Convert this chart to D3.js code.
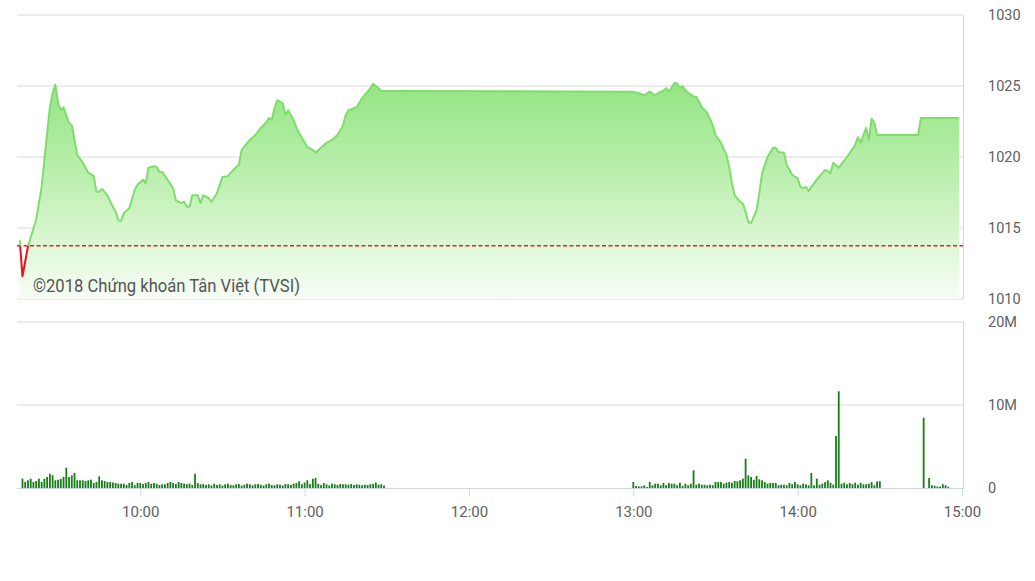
<!DOCTYPE html>
<html><head><meta charset="utf-8">
<script src="https://cdn.jsdelivr.net/npm/d3@7"></script>
<style>html,body{margin:0;padding:0;background:#fff;} svg{display:block;font-family:Roboto,"Noto Sans",sans-serif;}</style>
</head><body><svg id="c" width="1035" height="581"></svg>
<script>
// ---------- data ----------
const priceTimes = ["09:16","09:17","09:19","09:22","09:24","09:26","09:27","09:28","09:29","09:30","09:31","09:32","09:34","09:35","09:36","09:37","09:39","09:41","09:43","09:44","09:45","09:46","09:48","09:50","09:51","09:52","09:53","09:54","09:56","09:58","09:59","10:01","10:02","10:03","10:05","10:06","10:07","10:08","10:10","10:12","10:13","10:15","10:16","10:17","10:18","10:19","10:21","10:22","10:23","10:25","10:26","10:28","10:30","10:32","10:34","10:36","10:37","10:40","10:42","10:44","10:45","10:46","10:47","10:48","10:49","10:50","10:52","10:53","10:54","10:56","10:57","10:59","11:01","11:03","11:04","11:06","11:08","11:10","11:12","11:14","11:15","11:16","11:19","11:21","11:24","11:25","11:27","11:28","11:30","13:00","13:02","13:04","13:06","13:08","13:10","13:11","13:12","13:13","13:15","13:16","13:17","13:18","13:19","13:22","13:23","13:25","13:27","13:29","13:30","13:32","13:34","13:35","13:36","13:37","13:39","13:40","13:41","13:42","13:43","13:45","13:46","13:47","13:49","13:51","13:52","13:53","13:55","13:56","13:58","14:00","14:01","14:02","14:03","14:04","14:05","14:07","14:10","14:11","14:12","14:13","14:15","14:16","14:18","14:20","14:21","14:22","14:23","14:25","14:26","14:27","14:28","14:29","14:30","14:44","14:45","14:59"];
const priceValues = [1014.15,1011.6,1013.7,1015.6,1017.9,1021.7,1023.5,1024.5,1025.1,1023.8,1023.3,1023.5,1022.4,1022.25,1021.2,1020.15,1019.6,1018.9,1018.65,1017.55,1017.55,1017.75,1017.3,1016.5,1016.15,1015.55,1015.5,1016.05,1016.4,1017.7,1018.05,1018.4,1018.15,1019.25,1019.35,1019.3,1018.95,1018.95,1018.4,1017.8,1016.95,1016.75,1016.85,1016.5,1016.5,1017.3,1017.3,1016.75,1017.3,1017.1,1016.85,1017.45,1018.6,1018.65,1019.1,1019.45,1020.5,1021.2,1021.55,1022.05,1022.25,1022.45,1022.75,1022.6,1023.45,1024.0,1023.8,1022.95,1023.3,1022.6,1022.05,1021.35,1020.7,1020.5,1020.3,1020.65,1021.0,1021.2,1021.55,1022.2,1022.95,1023.3,1023.5,1024.15,1024.85,1025.15,1024.85,1024.65,1024.65,1024.6,1024.5,1024.35,1024.6,1024.35,1024.6,1024.65,1024.85,1024.6,1025.2,1025.2,1024.85,1025.0,1024.7,1024.25,1024.25,1023.5,1023.1,1022.25,1021.55,1021.0,1020.15,1019.3,1018.15,1017.3,1016.85,1016.7,1016.15,1015.4,1015.35,1016.25,1017.45,1018.85,1020.0,1020.65,1020.65,1020.35,1020.3,1019.45,1018.75,1018.5,1017.9,1017.8,1017.9,1017.6,1017.9,1018.4,1019.1,1019.0,1018.85,1019.6,1019.25,1019.5,1020.0,1020.55,1020.85,1021.4,1021.0,1022.05,1021.2,1022.7,1022.4,1021.55,1021.55,1021.55,1022.75,1022.75];
const refPrice = 1013.75;
const priceTicks = [1010,1015,1020,1025,1030];
const volTicks = [0,10,20];
const volTickLabels = ["0","10M","20M"];
const timeTicks = ["10:00","11:00","12:00","13:00","14:00","15:00"];
const volMorningStart = "09:17";
const volMorning = [1.12,0.72,0.93,1.12,0.72,0.84,1.12,0.72,1.12,1.33,1.72,1.53,0.93,1.0,1.12,1.33,2.45,1.33,1.53,1.81,0.93,0.93,0.93,0.84,0.93,1.0,0.6,0.72,1.41,0.93,0.84,0.72,0.72,0.66,0.6,0.52,0.52,0.52,0.36,0.6,0.72,0.33,0.6,0.6,0.48,0.6,0.72,0.52,0.6,0.52,0.36,0.45,0.45,0.6,0.72,0.6,0.48,0.72,0.6,0.52,0.45,0.52,0.36,1.72,0.6,0.45,0.48,0.36,0.45,0.3,0.52,0.36,0.45,0.3,0.45,0.52,0.36,0.33,0.45,0.48,0.3,0.4,0.52,0.45,0.33,0.45,0.48,0.4,0.3,0.45,0.52,0.36,0.33,0.45,0.4,0.3,0.48,0.45,0.36,0.52,0.6,0.81,0.45,0.66,0.93,0.48,1.12,1.2,0.52,0.36,0.6,0.45,0.3,0.52,0.45,0.36,0.48,0.45,0.45,0.4,0.48,0.36,0.45,0.4,0.33,0.4,0.36,0.45,0.48,0.66,0.4,0.45,0.3];
const volAfternoonStart = "13:00";
const volAfternoon = [0.72,0.24,0.2,0.2,0.33,0.12,0.72,0.33,0.52,0.52,0.33,0.6,0.33,0.6,0.52,0.52,0.33,0.64,0.24,0.52,0.33,0.52,2.13,0.4,0.52,0.4,0.4,0.33,0.4,0.33,0.72,0.72,0.72,0.52,0.64,0.72,0.64,0.84,0.81,0.93,1.12,3.53,1.53,1.33,1.0,1.45,1.05,0.93,0.72,0.52,0.6,0.6,0.6,0.33,0.4,0.4,0.33,0.6,0.45,0.72,0.45,0.33,0.52,0.45,0.33,1.81,0.33,1.12,0.4,0.52,0.72,0.93,0.64,0.4,6.27,11.65,0.52,0.64,0.45,0.6,0.45,0.64,0.4,0.64,0.45,0.45,0.52,0.72,0.33,0.81,0.81];
const volCloseTimes = ["14:46","14:48","14:49","14:50","14:51","14:52","14:53","14:54","14:55"];
const volCloseValues = [8.47,1.2,0.33,0.28,0.18,0.18,0.45,0.33,0.15];
const watermark = "©2018 Chứng khoán Tân Việt (TVSI)";

// ---------- helpers ----------
const toMin = s => { const p = s.split(":").map(Number); return p[0]*60 + p[1]; };
const fmtMin = m => String(Math.floor(m/60)).padStart(2,"0") + ":" + String(m%60).padStart(2,"0");

const price = priceTimes.map((t,i) => ({m: toMin(t), v: priceValues[i]}));
const vols = [];
volMorning.forEach((v,i) => vols.push({m: toMin(volMorningStart)+i, v}));
volAfternoon.forEach((v,i) => vols.push({m: toMin(volAfternoonStart)+i, v}));
volCloseTimes.forEach((t,i) => vols.push({m: toMin(t), v: volCloseValues[i]}));

// ---------- layout ----------
const L = 17, R = 963;
const svg = d3.select("#c");
const x = d3.scaleLinear().domain([toMin("09:15"), toMin("15:00")]).range([L, 962]);
const yP = d3.scaleLinear().domain([1010, 1030]).range([299, 15]);
const yV = d3.scaleLinear().domain([0, 20]).range([488, 322]);

const defs = svg.append("defs");
const g = defs.append("linearGradient").attr("id","fg").attr("x1",0).attr("y1",0).attr("x2",0).attr("y2",1);
g.append("stop").attr("offset","0%").attr("stop-color","#94e583");
g.append("stop").attr("offset","45%").attr("stop-color","#bdf0b0");
g.append("stop").attr("offset","100%").attr("stop-color","#f8fdf6");
const refY = yP(refPrice);
defs.append("clipPath").attr("id","above").append("rect").attr("x",0).attr("y",0).attr("width",1035).attr("height",refY);
defs.append("clipPath").attr("id","below").append("rect").attr("x",0).attr("y",refY).attr("width",1035).attr("height",300-refY);

// gridlines price
svg.append("g").selectAll("line").data(priceTicks).join("line")
  .attr("x1",L).attr("x2",R).attr("y1",d=>yP(d)).attr("y2",d=>yP(d))
  .attr("stroke","#d9d9d9").attr("stroke-width",1.2);
// gridlines volume
svg.append("g").selectAll("line").data(volTicks.filter(d=>d>0)).join("line")
  .attr("x1",L).attr("x2",R).attr("y1",d=>yV(d)).attr("y2",d=>yV(d))
  .attr("stroke","#d9d9d9").attr("stroke-width",1.2);

// area
const area = d3.area().x(d=>x(d.m)).y0(yP(1010)).y1(d=>yP(d.v));
svg.append("path").datum(price).attr("d",area).attr("fill","url(#fg)");

// ref line
svg.append("line").attr("x1",L).attr("x2",R).attr("y1",refY).attr("y2",refY)
  .attr("stroke","#d9281e").attr("stroke-width",1.3).attr("stroke-dasharray","4,2.5");

// price line
const line = d3.line().x(d=>x(d.m)).y(d=>yP(d.v));
svg.append("path").datum(price).attr("d",line).attr("fill","none")
  .attr("stroke","#80dc6e").attr("stroke-width",2).attr("stroke-linejoin","round").attr("clip-path","url(#above)");
svg.append("path").datum(price).attr("d",line).attr("fill","none")
  .attr("stroke","#e8141b").attr("stroke-width",2).attr("stroke-linejoin","round").attr("clip-path","url(#below)");

// watermark
svg.append("text").attr("x",33).attr("y",292).attr("font-size",17.5).attr("fill","#555")
  .attr("textLength",267).attr("lengthAdjust","spacingAndGlyphs").text(watermark);

// volume bars
svg.append("g").selectAll("rect").data(vols).join("rect")
  .attr("x",d=>x(d.m)-0.9).attr("width",1.8)
  .attr("y",d=>yV(d.v)).attr("height",d=>yV(0)-yV(d.v))
  .attr("fill","#177f17");

// right border lines
svg.append("line").attr("x1",R+0.5).attr("x2",R+0.5).attr("y1",15).attr("y2",299).attr("stroke","#ccd6eb");
svg.append("line").attr("x1",R+0.5).attr("x2",R+0.5).attr("y1",322).attr("y2",488).attr("stroke","#ccd6eb");

// x axis
const xAxis = d3.axisBottom(x).tickValues(timeTicks.map(toMin)).tickFormat(fmtMin).tickSize(8).tickPadding(10).tickSizeOuter(0);
const xa = svg.append("g").attr("transform","translate(0,488)").call(xAxis);
xa.select(".domain").attr("d",`M${L},0.5H${R+1}`).attr("stroke","#ccd6eb");
xa.selectAll(".tick line").attr("stroke","#ccd6eb");
xa.selectAll("text").attr("font-size",15).attr("fill","#606060").attr("font-family","Roboto");

// right axes
const pAxis = d3.axisRight(yP).tickValues(priceTicks).tickFormat(d3.format("d")).tickSize(0).tickPadding(25);
const pa = svg.append("g").attr("transform",`translate(${R},0)`).call(pAxis);
pa.select(".domain").remove();
pa.selectAll("text").attr("font-size",14.5).attr("fill","#606060").attr("font-family","Roboto");

const vAxis = d3.axisRight(yV).tickValues(volTicks).tickFormat((d,i)=>volTickLabels[i]).tickSize(0).tickPadding(25);
const va = svg.append("g").attr("transform",`translate(${R},0)`).call(vAxis);
va.select(".domain").remove();
va.selectAll("text").attr("font-size",14.5).attr("fill","#606060").attr("font-family","Roboto");
</script>
</body></html>
